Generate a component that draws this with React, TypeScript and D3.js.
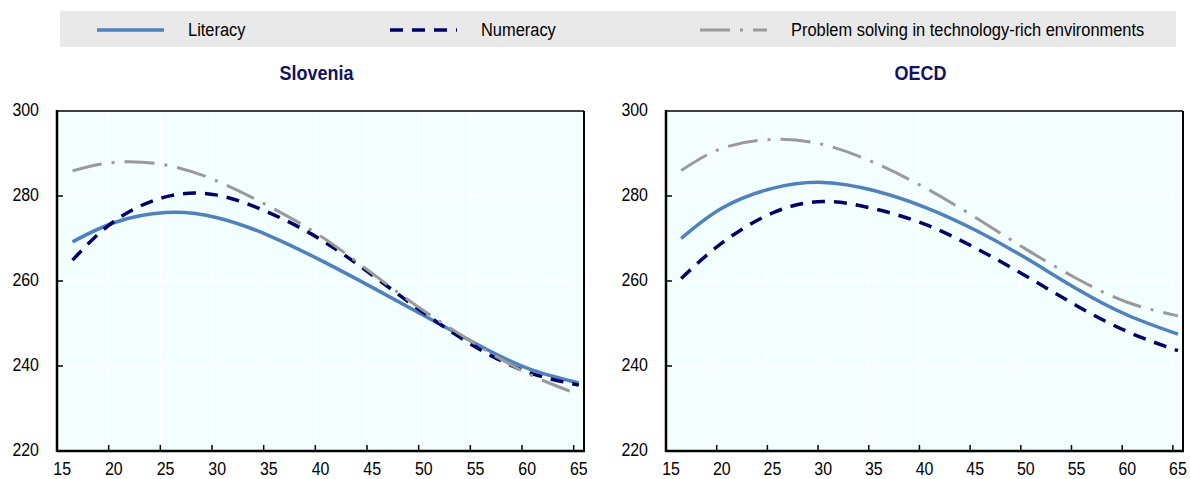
import * as d3 from 'd3';
import { useRef, useEffect } from 'react';

// ages (each value plotted at the middle of its one-year band)
const ages = [16, 20, 25, 30, 35, 40, 45, 50, 55, 60, 65];

// Slovenia
const sloLiteracy = [269.2, 273.7, 276.1, 274.9, 270.7, 264.9, 258.5, 251.9, 245.3, 239.5, 236.0];
const sloNumeracy = [264.9, 274.0, 279.8, 280.2, 276.1, 269.8, 261.4, 252.5, 244.5, 238.6, 235.5];
const sloProblem = [285.9, 287.9, 287.3, 283.5, 277.6, 270.6, 261.8, 253.0, 245.2, 238.3, 233.3];

// OECD average
const oecdLiteracy = [270.0, 277.1, 281.8, 283.2, 281.3, 277.4, 272.0, 265.4, 258.2, 252.0, 247.5];
const oecdNumeracy = [260.6, 268.9, 276.0, 278.7, 277.0, 273.4, 267.8, 261.2, 254.2, 248.1, 243.6];
const oecdProblem = [286.0, 291.2, 293.3, 292.1, 287.9, 282.0, 275.0, 267.5, 260.6, 255.0, 251.8];

const xTicks = [15, 20, 25, 30, 35, 40, 45, 50, 55, 60, 65];
const yTicks = [220, 240, 260, 280, 300];

const seriesNames = ['Literacy', 'Numeracy', 'Problem solving in technology-rich environments'];
const panelTitles = ['Slovenia', 'OECD'];

const FONT = '"Liberation Sans Narrow", "Arial Narrow", "Liberation Sans", Arial, sans-serif';

const styles = [
    { color: '#4f81bd', width: 3.5, dash: null },
    { color: '#000066', width: 3.5, dash: '13,9' },
    { color: '#9a9a9a', width: 3, dash: '30,10,3,10' },
];

// text squeezed sideways to look like a narrow face
function addText(parent, x, y, str, size, sx, opts = {}) {
    return parent.append('text')
        .attr('transform', `translate(${x},${y}) scale(${sx},1)`)
        .attr('text-anchor', opts.anchor || 'start')
        .attr('dominant-baseline', opts.baseline || 'auto')
        .style('font-family', FONT)
        .style('font-size', size + 'px')
        .style('font-weight', opts.weight || 'normal')
        .style('fill', opts.fill || '#000')
        .text(str);
}

export default function App() {
    const ref = useRef();

    useEffect(() => {
        const width = 1190;
        const height = 479;
        const svg = d3.select(ref.current)
            .attr('width', width)
            .attr('height', height);
        svg.selectAll('*').remove();

        // Legend
        svg.append('rect')
            .attr('x', 60).attr('y', 11)
            .attr('width', 1116).attr('height', 36)
            .attr('fill', '#e9e9e9');

        const legendX = [97, 390, 700];
        seriesNames.forEach((name, i) => {
            const s = styles[i];
            svg.append('line')
                .attr('x1', legendX[i]).attr('x2', legendX[i] + 67)
                .attr('y1', 30).attr('y2', 30)
                .attr('stroke', s.color)
                .attr('stroke-width', s.width)
                .attr('stroke-dasharray', s.dash);
            addText(svg, legendX[i] + 91, 31, name, 19, 0.865, { baseline: 'middle' });
        });

        const panels = [
            { left: 57, right: 584, title: panelTitles[0], data: [sloLiteracy, sloNumeracy, sloProblem] },
            { left: 666, right: 1183, title: panelTitles[1], data: [oecdLiteracy, oecdNumeracy, oecdProblem] },
        ];
        const top = 111;
        const bottom = 451;

        panels.forEach(p => {
            const x = d3.scaleLinear().domain([15, 66]).range([p.left, p.right]);
            const y = d3.scaleLinear().domain([220, 300]).range([bottom, top]);
            const g = svg.append('g');

            g.append('rect')
                .attr('x', p.left).attr('y', top)
                .attr('width', p.right - p.left).attr('height', bottom - top)
                .attr('fill', '#f3ffff');

            // gridlines
            g.selectAll('.vgrid')
                .data(xTicks.slice(1))
                .enter().append('line')
                .attr('x1', d => x(d)).attr('x2', d => x(d))
                .attr('y1', top).attr('y2', bottom)
                .attr('stroke', '#fff').attr('stroke-width', 1.5);
            g.selectAll('.hgrid')
                .data(yTicks.slice(1, -1))
                .enter().append('line')
                .attr('x1', p.left).attr('x2', p.right)
                .attr('y1', d => y(d)).attr('y2', d => y(d))
                .attr('stroke', '#fff').attr('stroke-width', 1.5);

            // series
            p.data.forEach((vals, i) => {
                const s = styles[i];
                const line = d3.line()
                    .x(d => x(d[0] + 0.5))
                    .y(d => y(d[1]))
                    .curve(d3.curveNatural);
                g.append('path')
                    .datum(ages.map((a, k) => [a, vals[k]]))
                    .attr('d', line)
                    .attr('fill', 'none')
                    .attr('stroke', s.color)
                    .attr('stroke-width', s.width)
                    .attr('stroke-dasharray', s.dash);
            });

            // frame
            g.append('line')
                .attr('x1', p.left).attr('x2', p.right).attr('y1', top).attr('y2', top)
                .attr('stroke', '#000').attr('stroke-width', 1.5);
            g.append('line')
                .attr('x1', p.right).attr('x2', p.right).attr('y1', top).attr('y2', bottom)
                .attr('stroke', '#000').attr('stroke-width', 2);
            g.append('line')
                .attr('x1', p.left).attr('x2', p.left).attr('y1', top - 1).attr('y2', bottom + 1)
                .attr('stroke', '#000').attr('stroke-width', 2.5);
            g.append('line')
                .attr('x1', p.left).attr('x2', p.right + 1).attr('y1', bottom).attr('y2', bottom)
                .attr('stroke', '#000').attr('stroke-width', 2.5);

            // ticks
            g.selectAll('.ytick')
                .data(yTicks.slice(1, -1))
                .enter().append('line')
                .attr('x1', p.left).attr('x2', p.left + 6)
                .attr('y1', d => y(d)).attr('y2', d => y(d))
                .attr('stroke', '#000').attr('stroke-width', 1.5);
            g.selectAll('.xtick')
                .data(xTicks.slice(1))
                .enter().append('line')
                .attr('x1', d => x(d)).attr('x2', d => x(d))
                .attr('y1', bottom).attr('y2', bottom - 6)
                .attr('stroke', '#000').attr('stroke-width', 1.5);

            // tick labels
            yTicks.forEach(t => {
                addText(g, p.left - 18, y(t), t, 19, 0.84, { anchor: 'end', baseline: 'middle' });
            });
            xTicks.forEach(t => {
                addText(g, x(t + 0.5), 475, t, 19, 0.84, { anchor: 'middle' });
            });

            // title
            addText(svg, (p.left + p.right) / 2 - 4, 80, p.title, 20, 0.9,
                { anchor: 'middle', weight: 'bold', fill: '#12125f' });
        });
    }, []);

    return (
        <svg ref={ref} style={{ position: 'absolute', left: 0, top: 0 }}></svg>
    );
}
